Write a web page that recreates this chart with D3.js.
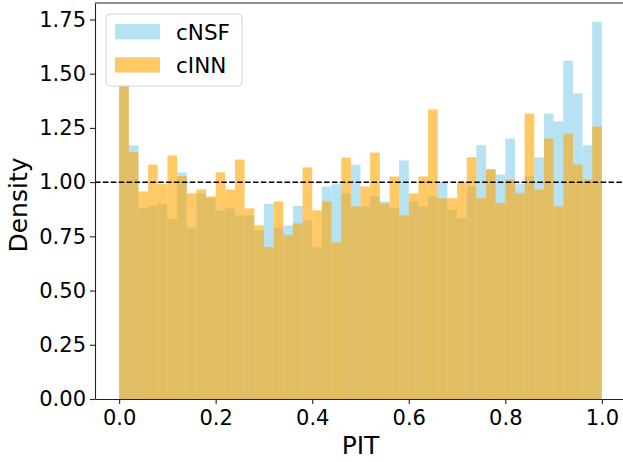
<!DOCTYPE html>
<html>
<head>
<meta charset="utf-8">
<script src="https://cdn.jsdelivr.net/npm/d3@7"></script>
<style>
  html, body { margin: 0; padding: 0; background: #fff; }
  svg { display: block; font-family: "DejaVu Sans", sans-serif; }
</style>
</head>
<body>
<svg id="chart" width="623" height="462"></svg>
<script>
// Bin edges: 50 equal bins on [0, 1]
const binCount = 50;
const binWidth = 0.02;

// Density per bin
const cNSF = [1.445, 1.17, 0.88, 0.89, 0.90, 0.83, 1.045, 0.79, 0.948, 0.925,
              0.87, 0.88, 0.847, 0.847, 0.778, 0.90, 0.79, 0.80, 0.89, 0.824,
              0.70, 0.98, 0.99, 0.948, 1.08, 0.888, 0.934, 0.911, 0.879, 1.10,
              0.911, 0.888, 0.934, 1.00, 0.871, 0.834, 0.98, 1.17, 1.06, 1.035,
              1.20, 0.99, 1.026, 1.114, 1.316, 1.28, 1.56, 1.41, 1.17, 1.739];
const cINN = [1.445, 1.138, 0.957, 1.081, 0.991, 1.123, 1.028, 0.948, 0.966, 0.934,
              1.045, 0.966, 1.104, 0.879, 0.801, 0.70, 0.911, 0.755, 0.81, 1.068,
              0.87, 0.911, 0.722, 1.113, 0.888, 0.98, 1.136, 0.902, 1.026, 0.847,
              0.948, 1.026, 1.335, 0.925, 0.926, 1.0, 1.115, 0.926, 1.058, 0.904,
              1.012, 0.948, 1.316, 0.966, 1.201, 0.888, 1.224, 1.081, 1.012, 1.256];

const seriesNames = ["cNSF", "cINN"];
const seriesColors = ["#87CEEB", "#FFA500"];
const xTicks = [0.0, 0.2, 0.4, 0.6, 0.8, 1.0];
const yTicks = [0.00, 0.25, 0.50, 0.75, 1.00, 1.25, 1.50, 1.75];
const refLine = 1.0;

(function () {
const svg = d3.select("#chart");
const mLeft = 95, mRight = 626, mTop = 3, mBottom = 399;

const allMax = d3.max(cNSF.concat(cINN));
const x = d3.scaleLinear().domain([-0.05, 1.05]).range([mLeft, mRight]);
const y = d3.scaleLinear().domain([0, allMax * 1.05]).range([mBottom, mTop]);

const series = [cNSF, cINN];
series.forEach((vals, si) => {
  svg.append("g")
    .selectAll("rect")
    .data(vals)
    .join("rect")
    .attr("x", (d, i) => x(i * binWidth))
    .attr("width", (d, i) => x((i + 1) * binWidth) - x(i * binWidth))
    .attr("y", d => y(d))
    .attr("height", d => y(0) - y(d))
    .attr("fill", seriesColors[si])
    .attr("fill-opacity", 0.6);
});

// reference dashed line
svg.append("line")
  .attr("x1", mLeft).attr("x2", mRight)
  .attr("y1", y(refLine)).attr("y2", y(refLine))
  .attr("stroke", "#000")
  .attr("stroke-width", 1.5)
  .attr("stroke-dasharray", "5.5,2.4");

// axes
const xAxis = d3.axisBottom(x).tickValues(xTicks).tickFormat(d3.format(".1f")).tickSize(5).tickSizeOuter(0);
const yAxis = d3.axisLeft(y).tickValues(yTicks).tickFormat(d3.format(".2f")).tickSize(5).tickSizeOuter(0);

const gx = svg.append("g").attr("transform", `translate(0,${mBottom})`).call(xAxis);
const gy = svg.append("g").attr("transform", `translate(${mLeft},0)`).call(yAxis);
[gx, gy].forEach(g => {
  g.select(".domain").attr("stroke", "#222").attr("stroke-width", 1.1);
  g.selectAll(".tick line").attr("stroke", "#222").attr("stroke-width", 1.1);
  g.selectAll(".tick text").attr("font-size", 21).attr("fill", "#000")
    .attr("font-family", "DejaVu Sans, sans-serif");
});
gx.selectAll(".tick text").attr("dy", "0.71em").attr("y", 11);
gy.selectAll(".tick text").attr("x", -9);

// top spine
svg.append("line").attr("x1", mLeft).attr("x2", mRight).attr("y1", mTop).attr("y2", mTop)
  .attr("stroke", "#222").attr("stroke-width", 1.1);

// axis labels
svg.append("text")
  .attr("x", (mLeft + mRight) / 2).attr("y", 454)
  .attr("text-anchor", "middle").attr("font-size", 25).text("PIT");
svg.append("text")
  .attr("transform", `translate(27,${(mTop + mBottom) / 2 + 4}) rotate(-90)`)
  .attr("text-anchor", "middle").attr("font-size", 25).text("Density");

// legend
const lg = svg.append("g");
lg.append("rect")
  .attr("x", 106).attr("y", 14).attr("width", 136).attr("height", 72)
  .attr("rx", 4).attr("fill", "#fff").attr("fill-opacity", 0.8)
  .attr("stroke", "#d5d5d5").attr("stroke-width", 1);
seriesNames.forEach((name, i) => {
  lg.append("rect")
    .attr("x", 115).attr("y", 24 + i * 33.3).attr("width", 45).attr("height", 15.3)
    .attr("fill", seriesColors[i]).attr("fill-opacity", 0.6);
  lg.append("text")
    .attr("x", 176).attr("y", 39.5 + i * 33.3)
    .attr("font-size", 21.5).text(name);
});
})();
</script>
</body>
</html>
